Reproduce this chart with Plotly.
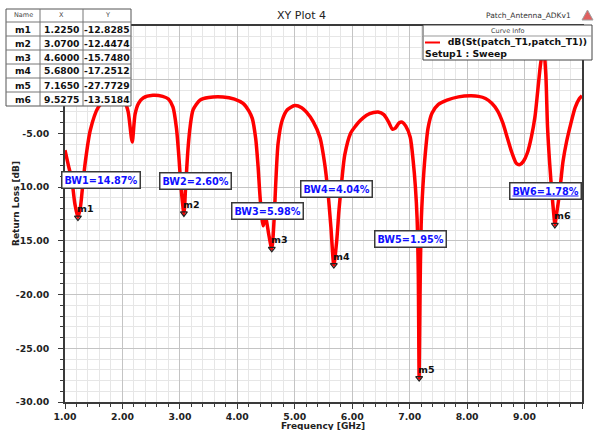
import plotly.graph_objects as go

# ---------------- data ----------------
freq = [1.00, 1.06, 1.12, 1.17, 1.225, 1.27, 1.30, 1.35, 1.44, 1.58, 1.70, 1.85, 1.97, 2.05, 2.10,
        2.17, 2.22, 2.28, 2.36, 2.53, 2.70, 2.80, 2.88, 2.94, 2.98, 3.02, 3.07, 3.10, 3.14, 3.18,
        3.23, 3.35, 3.50, 3.75, 3.95, 4.10, 4.20, 4.26, 4.32, 4.36, 4.40, 4.45, 4.49, 4.55, 4.60,
        4.64, 4.67, 4.71, 4.78, 4.87, 5.00, 5.12, 5.20, 5.32, 5.44, 5.52, 5.58, 5.63, 5.68, 5.73,
        5.77, 5.82, 5.87, 5.97, 6.06, 6.14, 6.25, 6.37, 6.45, 6.55, 6.63, 6.70, 6.75, 6.82, 6.87,
        6.93, 7.01, 7.06, 7.10, 7.13, 7.15, 7.165, 7.18, 7.20, 7.23, 7.27, 7.32, 7.39, 7.50, 7.65,
        7.85, 8.06, 8.20, 8.32, 8.43, 8.53, 8.62, 8.70, 8.78, 8.86, 8.92, 8.98, 9.05, 9.12, 9.18,
        9.23, 9.28, 9.33, 9.37, 9.40, 9.44, 9.48, 9.51, 9.5275, 9.56, 9.59, 9.63, 9.67, 9.73, 9.80,
        9.88, 9.95, 10.00]
s11_db = [-6.56, -8.0, -9.35, -11.5, -12.8285, -11.8, -10.3, -7.8, -4.7, -2.55, -1.9, -1.7, -1.9, -2.2, -3.0,
          -5.8, -3.2, -2.2, -1.7, -1.45, -1.55, -1.8, -2.55, -4.5, -7.0, -10.0, -12.4474, -10.0, -6.5, -4.3,
          -2.8, -1.9, -1.65, -1.6, -1.8, -2.2, -2.9, -3.6, -5.5, -8.0, -11.2, -13.6, -12.8, -14.5, -15.7480,
          -13.0, -9.5, -5.9, -3.8, -2.8, -2.4, -2.6, -3.0, -3.9, -5.4, -7.8, -10.6, -13.8, -17.2512, -15.0,
          -12.1, -9.3, -7.0, -5.0, -4.3, -3.8, -3.3, -3.05, -3.0, -3.25, -3.9, -4.6, -4.5, -4.0, -3.95,
          -4.3, -5.35, -7.5, -10.0, -13.0, -18.0, -27.7729, -20.0, -13.5, -10.0, -7.0, -4.5, -3.1, -2.3, -1.9,
          -1.6, -1.5, -1.55, -1.75, -2.2, -2.9, -4.0, -5.4, -6.8, -7.8, -7.9, -7.6, -6.8, -5.3, -3.5,
          -1.0, 1.5, 3.0, 0.5, -4.4, -8.0, -10.8, -12.6, -13.5184, -12.4, -11.3, -9.5, -7.6, -5.8, -4.2,
          -2.6, -1.8, -1.5]

marker_names = ["m1", "m2", "m3", "m4", "m5", "m6"]
marker_x = [1.2250, 3.0700, 4.6000, 5.6800, 7.1650, 9.5275]
marker_y = [-12.8285, -12.4474, -15.7480, -17.2512, -27.7729, -13.5184]
bw_values = [14.87, 2.60, 5.98, 4.04, 1.95, 1.78]

x_tick_vals = [1, 2, 3, 4, 5, 6, 7, 8, 9, 10]
y_tick_vals = [-30, -25, -20, -15, -10, -5, 0, 5]
y_tick_shown = [-30, -25, -20, -15, -10, -5]   # 0.00 and 5.00 sit under the marker table
trace_name = "dB(St(patch_T1,patch_T1))"
setup_name = "Setup1 : Sweep"
title_text = "XY Plot 4"
design_name = "Patch_Antenna_ADKv1"

# ---------------- layout geometry (pixels) ----------------
W, H = 595, 430
L, R, T, B = 65, 582, 26, 402


def px(xp):
    return (xp - L) / (R - L)


def py(yp):
    return (B - yp) / (B - T)


FONT = "DejaVu Sans"


def bfont(size, color="#111111"):
    return dict(family=FONT, size=size, color=color, weight="bold")


def b(t):
    return "<b>" + t + "</b>"


fig = go.Figure()
fig.add_trace(go.Scatter(x=freq, y=s11_db, mode="lines", name=trace_name,
                         line=dict(color="#ff0000", width=3.5, shape="spline", smoothing=0.7),
                         showlegend=False))
fig.add_trace(go.Scatter(x=marker_x, y=marker_y, mode="markers", showlegend=False,
                         marker=dict(symbol="triangle-down-open", size=6, color="#202020",
                                     line=dict(width=1.2, color="#202020"))))

annotations = []
shapes = []

# marker labels
for n, xv, yv in zip(marker_names, marker_x, marker_y):
    annotations.append(dict(x=xv, y=yv, xref="x", yref="y", text=b(n), showarrow=False,
                            xanchor="left", yanchor="middle", xshift=-3, yshift=9,
                            font=bfont(9.5)))

# bandwidth boxes (label positions in data space)
bw_pos_x = [1.627, 3.28, 4.53, 5.72, 7.02, 9.36]
bw_pos_y = [-9.35, -9.44, -12.23, -10.19, -14.84, -10.37]
for i, (bv, bx, by) in enumerate(zip(bw_values, bw_pos_x, bw_pos_y)):
    txt = "BW%d=%.2f%%" % (i + 1, bv)
    if i == 5:
        txt = "<u>" + txt + "</u>"
    annotations.append(dict(x=bx, y=by, xref="x", yref="y", text=b(txt), showarrow=False,
                            xanchor="center", yanchor="middle", bgcolor="white",
                            bordercolor="#3a3a3a", borderwidth=1.5, borderpad=2,
                            font=bfont(9.7, "#1010ff")))

# title + design name
annotations.append(dict(x=px(301), y=py(16), xref="paper", yref="paper", text=title_text,
                        showarrow=False, xanchor="center", yanchor="middle",
                        font=dict(family=FONT, size=11, color="#222222")))
annotations.append(dict(x=px(573), y=py(16), xref="paper", yref="paper", text=design_name,
                        showarrow=False, xanchor="right", yanchor="middle",
                        font=dict(family=FONT, size=7.5, color="#333333")))
shapes.append(dict(type="path", xref="paper", yref="paper",
                   path="M %f %f L %f %f L %f %f Z" % (px(582), py(20), px(593), py(20), px(587.5), py(10)),
                   fillcolor="#e06060", line=dict(color="#a0a0a0", width=1), layer="above"))

# axis titles
annotations.append(dict(x=px(323), y=py(425.5), xref="paper", yref="paper", text=b("Frequency [GHz]"),
                        showarrow=False, xanchor="center", yanchor="middle", borderpad=0,
                        font=bfont(9, "#222222")))
annotations.append(dict(x=px(16), y=py(204), xref="paper", yref="paper", text=b("Return Loss [dB]"),
                        showarrow=False, xanchor="center", yanchor="middle", textangle=-90,
                        font=bfont(9, "#222222")))

# ---------------- marker table ----------------
tl, tr, tt, tb = 6, 131, 9, 106
cols = [tl, 40, 83, tr]
row_edges = [tt, 22] + [22 + 14 * (k + 1) for k in range(6)]
row_edges[-1] = tb
shapes.append(dict(type="rect", xref="paper", yref="paper", x0=px(tl), x1=px(tr), y0=py(tb), y1=py(tt),
                   fillcolor="white", line=dict(color="#555555", width=1), layer="above"))
for c in cols[1:-1]:
    shapes.append(dict(type="line", xref="paper", yref="paper", x0=px(c), x1=px(c), y0=py(tb), y1=py(tt),
                       line=dict(color="#777777", width=1), layer="above"))
for r in row_edges[1:-1]:
    shapes.append(dict(type="line", xref="paper", yref="paper", x0=px(tl), x1=px(tr), y0=py(r), y1=py(r),
                       line=dict(color="#777777", width=1), layer="above"))
headers = ["Name", "X", "Y"]
for j, h in enumerate(headers):
    annotations.append(dict(x=px((cols[j] + cols[j + 1]) / 2), y=py((row_edges[0] + row_edges[1]) / 2),
                            xref="paper", yref="paper", text=h, showarrow=False,
                            xanchor="center", yanchor="middle", borderpad=0,
                            font=dict(family=FONT, size=6.5, color="#444444")))
for k, (n, xv, yv) in enumerate(zip(marker_names, marker_x, marker_y)):
    yc = py((row_edges[k + 1] + row_edges[k + 2]) / 2)
    for j, t in enumerate([n, "%.4f" % xv, "%.4f" % yv]):
        annotations.append(dict(x=px((cols[j] + cols[j + 1]) / 2), y=yc, xref="paper", yref="paper",
                                text=b(t), showarrow=False, xanchor="center", yanchor="middle",
                                borderpad=0, font=bfont(9.2)))

# ---------------- curve info legend ----------------
ll, lr, lt, lb = 423, 592, 25, 60
shapes.append(dict(type="rect", xref="paper", yref="paper", x0=px(ll), x1=px(lr), y0=py(lb), y1=py(lt),
                   fillcolor="white", line=dict(color="#444444", width=1), layer="above"))
shapes.append(dict(type="line", xref="paper", yref="paper", x0=px(ll), x1=px(lr), y0=py(36), y1=py(36),
                   line=dict(color="#999999", width=1), layer="above"))
shapes.append(dict(type="line", xref="paper", yref="paper", x0=px(425), x1=px(440), y0=py(42.5), y1=py(42.5),
                   line=dict(color="#ff0000", width=2), layer="above"))
annotations.append(dict(x=px((ll + lr) / 2), y=py(30.5), xref="paper", yref="paper", text="Curve Info",
                        showarrow=False, xanchor="center", yanchor="middle", borderpad=0,
                        font=dict(family=FONT, size=6.5, color="#444444")))
legend_text = b("&nbsp;" * 7 + trace_name) + "<br>" + b(setup_name)
annotations.append(dict(x=px(424), y=py(48), xref="paper", yref="paper", text=legend_text,
                        showarrow=False, xanchor="left", yanchor="middle", align="left", borderpad=0,
                        font=bfont(9.3)))

axis_common = dict(showline=True, mirror=True, linecolor="#3a3a3a", linewidth=2,
                   ticks="outside", ticklen=5, tickcolor="#3a3a3a", tickwidth=1,
                   showgrid=True, gridcolor="#c4c4c4", gridwidth=1, zeroline=False,
                   automargin=False, tickfont=bfont(9.3, "#222222"))

fig.update_layout(
    width=W, height=H,
    margin=dict(l=L, r=W - R, t=T, b=H - B, pad=0),
    paper_bgcolor="white", plot_bgcolor="white",
    showlegend=False,
    xaxis=dict(range=[1, 10], tickmode="array", tickvals=x_tick_vals,
               ticktext=["%.2f" % v for v in x_tick_vals],
               minor=dict(dtick=0.2, tick0=1, ticks="outside", ticklen=3, tickcolor="#3a3a3a",
                          showgrid=True, gridcolor="#e6e6e6", gridwidth=1),
               ticklabelstandoff=0, **axis_common),
    yaxis=dict(range=[-30, 5], tickmode="array", tickvals=y_tick_vals,
               ticktext=[("%.2f" % v) if v in y_tick_shown else "" for v in y_tick_vals],
               minor=dict(dtick=1, tick0=-30, ticks="outside", ticklen=3, tickcolor="#3a3a3a",
                          showgrid=True, gridcolor="#e6e6e6", gridwidth=1),
               ticklabelstandoff=7, **axis_common),
    annotations=annotations,
    shapes=shapes,
)

fig.write_html("out.html")
